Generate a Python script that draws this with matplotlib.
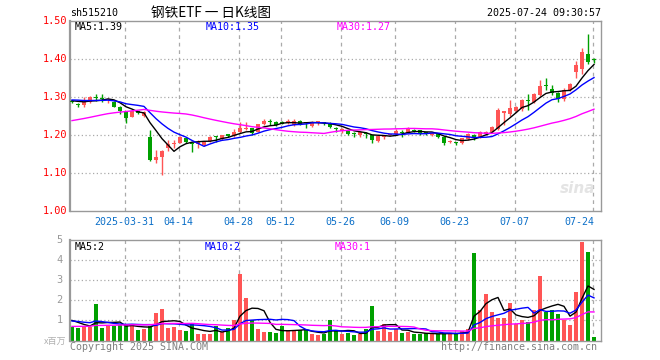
import numpy as np
import pandas as pd
import matplotlib
matplotlib.use("Agg")
import matplotlib.pyplot as plt
from matplotlib.transforms import blended_transform_factory as btf

# ---------------- data ----------------
dates = [
    "2025-03-18", "2025-03-19", "2025-03-20", "2025-03-21", "2025-03-24", "2025-03-25", "2025-03-26",
    "2025-03-27", "2025-03-28", "2025-03-31",
    "2025-04-01", "2025-04-02", "2025-04-03", "2025-04-07", "2025-04-08", "2025-04-09", "2025-04-10",
    "2025-04-11", "2025-04-14", "2025-04-15", "2025-04-16", "2025-04-17", "2025-04-18", "2025-04-21",
    "2025-04-22", "2025-04-23", "2025-04-24", "2025-04-25", "2025-04-28", "2025-04-29", "2025-04-30",
    "2025-05-06", "2025-05-07", "2025-05-08", "2025-05-09", "2025-05-12", "2025-05-13", "2025-05-14",
    "2025-05-15", "2025-05-16", "2025-05-19", "2025-05-20", "2025-05-21", "2025-05-22", "2025-05-23",
    "2025-05-26", "2025-05-27", "2025-05-28", "2025-05-29", "2025-05-30",
    "2025-06-03", "2025-06-04", "2025-06-05", "2025-06-06", "2025-06-09", "2025-06-10", "2025-06-11",
    "2025-06-12", "2025-06-13", "2025-06-16", "2025-06-17", "2025-06-18", "2025-06-19", "2025-06-20",
    "2025-06-23", "2025-06-24", "2025-06-25", "2025-06-26", "2025-06-27", "2025-06-30",
    "2025-07-01", "2025-07-02", "2025-07-03", "2025-07-04", "2025-07-07", "2025-07-08", "2025-07-09",
    "2025-07-10", "2025-07-11", "2025-07-14", "2025-07-15", "2025-07-16", "2025-07-17", "2025-07-18",
    "2025-07-21", "2025-07-22", "2025-07-23", "2025-07-24",
]

open_ = [
    1.291, 1.2815, 1.279, 1.288, 1.301, 1.297, 1.293, 1.288, 1.274, 1.2615,
    1.249, 1.261, 1.251, 1.195, 1.135, 1.142, 1.167, 1.176, 1.181, 1.193,
    1.1806, 1.177, 1.175, 1.184, 1.197, 1.190, 1.2025, 1.1982, 1.2096, 1.2175,
    1.218, 1.2096, 1.2289, 1.2355, 1.235, 1.235, 1.2315, 1.227, 1.2376, 1.2318,
    1.2254, 1.2338, 1.2318, 1.2298, 1.2162, 1.2104, 1.2122, 1.2036, 1.2017, 1.2036,
    1.1999, 1.1859, 1.1965, 1.1995, 1.2034, 1.2072, 1.2069, 1.2125, 1.2140, 1.2055,
    1.1999, 1.2052, 1.1964, 1.1820, 1.1792, 1.1790, 1.190, 1.2009, 1.1964, 1.2043,
    1.2078, 1.2166, 1.2600, 1.2552, 1.264, 1.2692, 1.2905, 1.2868, 1.3061, 1.3300,
    1.3210, 1.3122, 1.2955, 1.3192, 1.3675, 1.3736, 1.4131, 1.3995,
]
high = [
    1.293, 1.286, 1.300, 1.3035, 1.309, 1.309, 1.298, 1.290, 1.276, 1.263,
    1.267, 1.263, 1.265, 1.214, 1.161, 1.161, 1.188, 1.188, 1.197, 1.195,
    1.1832, 1.1876, 1.186, 1.198, 1.198, 1.202, 1.204, 1.2157, 1.2359, 1.236,
    1.219, 1.231, 1.242, 1.242, 1.237, 1.238, 1.242, 1.242, 1.239, 1.234,
    1.237, 1.2376, 1.236, 1.235, 1.2227, 1.218, 1.214, 1.2087, 1.210, 1.2087,
    1.201, 1.199, 1.201, 1.202, 1.2157, 1.214, 1.2227, 1.216, 1.215, 1.208,
    1.207, 1.207, 1.198, 1.1876, 1.1832, 1.194, 1.205, 1.203, 1.2113, 1.2113,
    1.225, 1.271, 1.264, 1.292, 1.277, 1.295, 1.3078, 1.310, 1.3455, 1.3499,
    1.3324, 1.314, 1.3236, 1.337, 1.3955, 1.4289, 1.4657, 1.4043,
]
low = [
    1.284, 1.2755, 1.275, 1.284, 1.291, 1.288, 1.284, 1.274, 1.256, 1.2316,
    1.247, 1.257, 1.247, 1.132, 1.128, 1.095, 1.160, 1.167, 1.179, 1.180,
    1.157, 1.1657, 1.172, 1.182, 1.183, 1.188, 1.195, 1.1964, 1.207, 1.214,
    1.2008, 1.208, 1.2262, 1.228, 1.224, 1.229, 1.229, 1.2253, 1.227, 1.2183,
    1.221, 1.2262, 1.227, 1.219, 1.2087, 1.207, 1.201, 1.1964, 1.1947, 1.1929,
    1.1806, 1.1832, 1.1911, 1.197, 1.1999, 1.1947, 1.2052, 1.209, 1.2017, 1.202,
    1.198, 1.194, 1.1745, 1.1789, 1.1736, 1.177, 1.188, 1.1877, 1.1938, 1.2008,
    1.205, 1.214, 1.227, 1.2517, 1.262, 1.264, 1.2666, 1.285, 1.3043, 1.3192,
    1.3061, 1.2868, 1.2903, 1.317, 1.3516, 1.3604, 1.3868, 1.3894,
]
close = [
    1.287, 1.2805, 1.288, 1.300, 1.299, 1.2955, 1.296, 1.2755, 1.263, 1.2456,
    1.265, 1.260, 1.261, 1.135, 1.142, 1.158, 1.177, 1.177, 1.195, 1.1825,
    1.1775, 1.183, 1.183, 1.196, 1.196, 1.200, 1.197, 1.2096, 1.2201, 1.2185,
    1.205, 1.2297, 1.2376, 1.235, 1.226, 1.2306, 1.2376, 1.2376, 1.228, 1.2315,
    1.235, 1.2342, 1.2313, 1.2215, 1.2155, 1.2157, 1.2034, 1.2032, 1.2087, 1.2030,
    1.1876, 1.1982, 1.1999, 1.2000, 1.2122, 1.2067, 1.2175, 1.2120, 1.2034, 1.2050,
    1.2052, 1.1964, 1.1806, 1.1826, 1.1787, 1.1920, 1.203, 1.1938, 1.2078, 1.2096,
    1.2227, 1.2666, 1.2605, 1.2710, 1.2754, 1.2929, 1.2900, 1.3078, 1.3306, 1.3295,
    1.3122, 1.2955, 1.3183, 1.3350, 1.3850, 1.4201, 1.3929, 1.3990,
]
# volume, millions
volume = [
    0.67, 0.62, 0.67, 0.67, 1.80, 0.62, 0.72, 0.70, 0.75, 0.78,
    0.78, 0.50, 0.57, 0.70, 1.37, 1.55, 0.62, 0.67, 0.53, 0.47,
    0.80, 0.33, 0.33, 0.33, 0.72, 0.40, 0.62, 1.00, 3.30, 2.12,
    1.00, 0.55, 0.43, 0.42, 0.37, 0.70, 0.50, 0.50, 0.50, 0.50,
    0.30, 0.25, 0.33, 1.00, 0.50, 0.30, 0.37, 0.25, 0.33, 0.55,
    1.70, 0.47, 0.80, 0.42, 0.55, 0.37, 0.42, 0.33, 0.30, 0.37,
    0.33, 0.33, 0.35, 0.35, 0.35, 0.45, 0.55, 4.37, 1.50, 2.30,
    1.42, 1.12, 1.13, 1.87, 0.83, 1.00, 0.92, 1.53, 3.22, 1.42,
    1.50, 1.33, 1.03, 0.78, 2.42, 4.92, 4.42, 0.17,
]
# closes / volumes of the 29 sessions before the window (inferred from the MA lines)
prior_close = [
    1.198, 1.203, 1.207, 1.200, 1.196, 1.205, 1.210, 1.206, 1.201, 1.208,
    1.212, 1.202, 1.205, 1.211, 1.216, 1.222, 1.219, 1.226, 1.225,
    1.257, 1.285, 1.298, 1.301, 1.296, 1.295, 1.289, 1.294, 1.290, 1.295,
]
prior_volume = [
    0.55, 0.60, 0.52, 0.58, 0.62, 0.50, 0.55, 0.60, 0.57, 0.53,
    0.58, 0.60, 0.55, 0.52, 0.60, 0.58, 0.56, 0.54, 0.58, 0.58,
    0.85, 1.05, 0.90, 0.95, 0.95, 1.10, 1.20, 1.05, 0.98,
]
tick_dates = ["2025-03-31", "2025-04-14", "2025-04-28", "2025-05-12", "2025-05-26",
              "2025-06-09", "2025-06-23", "2025-07-07", "2025-07-24"]
tick_labels = ["2025-03-31", "04-14", "04-28", "05-12", "05-26", "06-09", "06-23", "07-07", "07-24"]
price_ticks = [1.00, 1.10, 1.20, 1.30, 1.40, 1.50]
vol_ticks = [1, 2, 3, 4, 5]

# ---------------- derived ----------------
o = np.array(open_); h = np.array(high); l = np.array(low); c = np.array(close)
v = np.array(volume)
n = len(c)
x = np.arange(n)
allc = pd.Series(prior_close + close)
allv = pd.Series(prior_volume + volume)
np_ = len(prior_close)
ma = {k: allc.rolling(k).mean().values[np_:] for k in (5, 10, 30)}
vma = {k: allv.rolling(k).mean().values[np_:] for k in (5, 10, 30)}

RED = "#ff5555"
GREEN = "#00a000"
GRID = "#aaaaaa"
FRAME = "#999999"
MONO = "DejaVu Sans Mono"
up = c >= o
cols = np.where(up, RED, GREEN)

W, H = 660, 360
fig = plt.figure(figsize=(6.6, 3.6), dpi=100)
L, R = 69.7, 601.0
ax = fig.add_axes([L / W, 1 - 211.3 / H, (R - L) / W, 190 / H])
axv = fig.add_axes([L / W, 1 - 340.5 / H, (R - L) / W, 100.5 / H])

x0 = -0.38
x1 = (R - 72.0) / 6.0
tick_pos = [dates.index(d) - 0.22 for d in tick_dates]

for a, ylim, yt in ((ax, (1.0, 1.5), price_ticks[1:-1]), (axv, (0, 5), vol_ticks[:-1])):
    a.set_xlim(x0, x1)
    a.set_ylim(*ylim)
    a.set_xticks([]); a.set_yticks([])
    for s in a.spines.values():
        s.set_color(FRAME); s.set_linewidth(1.0)
    a.spines["left"].set_linewidth(1.6)
    for yy in yt:
        a.axhline(yy, color=GRID, lw=0.9, ls=(0, (1, 2)), zorder=0)
    for tp in tick_pos:
        a.axvline(tp, color=GRID, lw=0.9, ls=(0, (3, 3)), zorder=0)

# candles
ax.vlines(x, l, h, colors=cols, lw=1.0, zorder=2)
body = np.maximum(np.abs(c - o), 0.0028)
ax.bar(x, body, bottom=np.minimum(o, c), width=0.72, color=cols, linewidth=0, zorder=3)
ax.plot(x, ma[5], color="black", lw=1.0, zorder=4)
ax.plot(x, ma[10], color="#0000ff", lw=1.0, zorder=4)
ax.plot(x, ma[30], color="#ff00ff", lw=1.0, zorder=4)

# volume
axv.bar(x, v, width=0.82, color=cols, linewidth=0, zorder=2)
axv.plot(x, vma[5], color="black", lw=1.0, zorder=4)
axv.plot(x, vma[10], color="#0000ff", lw=1.0, zorder=4)
axv.plot(x, vma[30], color="#ff00ff", lw=1.0, zorder=4)

# y labels
ty = ax.get_yaxis_transform()
for pt in price_ticks:
    ax.text(-0.005, pt, f"{pt:.2f}", transform=ty, ha="right", va="center",
            color="red", fontsize=7.4, family=MONO)
tyv = axv.get_yaxis_transform()
for vt in vol_ticks:
    axv.text(-0.013, vt, f"{vt}", transform=tyv, ha="right", va="center",
             color="#999999", fontsize=7.4, family=MONO)
fig.text(66 / W, 1 - 341 / H, "x百万", ha="right", va="center", color="#b0b0b0",
         fontsize=6.5, family=["Noto Sans CJK SC", "DejaVu Sans"])

# x labels
tx = btf(ax.transData, ax.transAxes)
for i, (tp, lab) in enumerate(zip(tick_pos, tick_labels)):
    ha = "right" if i == len(tick_labels) - 1 else "center"
    xx = tp + 0.2 if ha == "right" else tp - 0.1
    ax.text(xx, -10.7 / 190, lab, transform=tx, ha=ha, va="center",
            color="#0b6fc8", fontsize=7.2, family=MONO)

# legends
def px(xp, yp):
    return xp / W, 1 - yp / H

fig.text(*px(74.5, 27.5), f"MA5:{ma[5][-1]:.2f}", color="black", fontsize=7.2, family=MONO, va="center")
fig.text(*px(206, 27.5), f"MA10:{ma[10][-1]:.2f}", color="#0000ff", fontsize=7.2, family=MONO, va="center")
fig.text(*px(337, 27.5), f"MA30:{ma[30][-1]:.2f}", color="#ff00ff", fontsize=7.2, family=MONO, va="center")
fig.text(*px(74.5, 246.5), f"MA5:{int(vma[5][-1])}", color="black", fontsize=7.2, family=MONO, va="center")
fig.text(*px(205, 246.5), f"MA10:{int(vma[10][-1])}", color="#0000ff", fontsize=7.2, family=MONO, va="center")
fig.text(*px(334.5, 246.5), f"MA30:{int(vma[30][-1])}", color="#ff00ff", fontsize=7.2, family=MONO, va="center")

# header
fig.text(*px(70, 12.5), "sh515210", color="black", fontsize=7.2, family=MONO, va="center")
fig.text(*px(151, 12.5), "钢铁ETF 一 日K线图", color="black", fontsize=9.8,
         family=["Noto Sans CJK SC", "DejaVu Sans"], va="center")
fig.text(*px(601, 12.5), "2025-07-24 09:30:57", color="black", fontsize=7.2, family=MONO,
         va="center", ha="right")

# footer
fig.text(*px(70, 347), "Copyright 2025 SINA.COM", color="#808080", fontsize=7.2, family=MONO, va="center")
fig.text(*px(597, 347), "http://finance.sina.com.cn", color="#808080", fontsize=7.2, family=MONO,
         va="center", ha="right")

# watermark
ax.text(0.99, 0.12, "sina", transform=ax.transAxes, ha="right", va="center", fontsize=11,
        style="italic", weight="bold", color="#e4e4e4", zorder=1)

fig.savefig("out.png", dpi=100)
